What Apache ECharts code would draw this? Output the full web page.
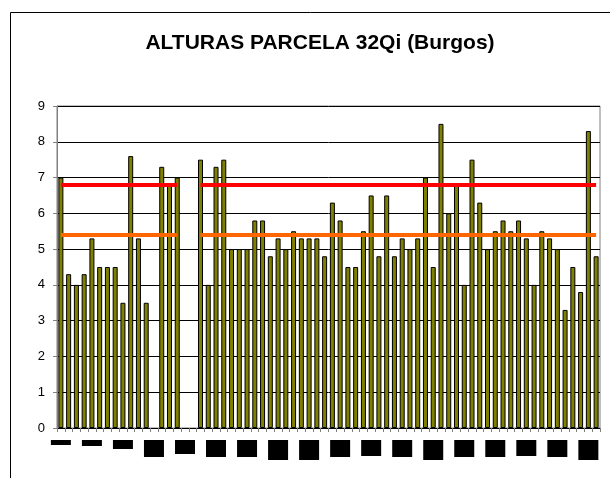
<!DOCTYPE html>
<html style="height: 100%">

<head>
    <meta charset="utf-8">
    <script src="https://cdn.jsdelivr.net/npm/echarts@6/dist/echarts.min.js"></script>
</head>

<body style="height: 100%; margin: 0; background: #fff">
    <div id="main" style="width: 610px;height:478px;"></div>
    <script type="text/javascript">
        // alturas (m) de cada arbol de la parcela, en orden
        var alturas = [7.0, 4.3, 4.0, 4.3, 5.3, 4.5, 4.5, 4.5, 3.5, 7.6,
            5.3, 3.5, null, 7.3, 6.8, 7.0, null, null, 7.5, 4.0,
            7.3, 7.5, 5.0, 5.0, 5.0, 5.8, 5.8, 4.8, 5.3, 5.0,
            5.5, 5.3, 5.3, 5.3, 4.8, 6.3, 5.8, 4.5, 4.5, 5.5,
            6.5, 4.8, 6.5, 4.8, 5.3, 5.0, 5.3, 7.0, 4.5, 8.5,
            6.0, 6.8, 4.0, 7.5, 6.3, 5.0, 5.5, 5.8, 5.5, 5.8,
            5.3, 4.0, 5.5, 5.3, 5.0, 3.3, 4.5, 3.8, 8.3, 4.8];
        var arboles = alturas.map(function (v, i) { return String(i + 1); });
        // lineas de referencia (valor) y los tramos de arboles que cubren
        var limiteRojo = 6.8;
        var limiteNaranja = 5.4;
        var tramos = [[0, 15], [18, 69]];
        // las etiquetas del eje salen como bloques negros de distinta altura
        var alturaBloque = [5, 6, 9, 17, 14, 17, 17, 20, 20, 17, 16, 17, 20, 17, 17, 16, 17, 20];

        var rich = {};
        alturaBloque.forEach(function (h, k) {
            rich['b' + k] = { backgroundColor: '#000', width: 20, height: h, lineHeight: h, fontSize: 1, padding: 0 };
        });

        function tramoLinea(valor, color) {
            return tramos.map(function (t) {
                return [{ coord: [t[0], valor], lineStyle: { color: color, width: 4, type: 'solid' } },
                        { coord: [t[1], valor] }];
            });
        }

        var myChart = echarts.init(document.getElementById('main'));
        myChart.setOption({
            animation: false,
            title: {
                text: 'ALTURAS PARCELA 32Qi (Burgos)',
                left: 315,
                textAlign: 'center',
                top: 28,
                textStyle: { fontFamily: 'Liberation Sans', fontSize: 21, fontWeight: 'bold', color: '#000' }
            },
            graphic: [{
                type: 'rect',
                shape: { x: 10.5, y: 12.5, width: 700, height: 600 },
                style: { fill: 'none', stroke: '#000', lineWidth: 1 },
                silent: true
            }],
            grid: { left: 57, right: 10, top: 106, bottom: 50, show: true, borderColor: '#808080', borderWidth: 1 },
            xAxis: {
                type: 'category',
                data: arboles,
                axisLine: { lineStyle: { color: '#000' } },
                axisTick: { show: true, interval: 0, length: 4, lineStyle: { color: '#808080' } },
                axisLabel: {
                    interval: 3,
                    margin: 12,
                    verticalAlign: 'top',
                    formatter: function (v, i) {
                        return '{b' + (i / 4) + '| }';
                    },
                    rich: rich
                }
            },
            yAxis: {
                type: 'value',
                min: 0,
                max: 9,
                interval: 1,
                axisLine: { show: true, lineStyle: { color: '#808080' } },
                axisTick: { show: true, length: 4, lineStyle: { color: '#808080' } },
                axisLabel: { margin: 12, fontFamily: 'Liberation Sans', fontSize: 13, color: '#000' },
                splitLine: { lineStyle: { color: '#000', width: 1 } }
            },
            series: [{
                type: 'bar',
                data: alturas,
                barWidth: 5,
                itemStyle: { color: '#808000', borderColor: '#000', borderWidth: 1 },
                markLine: {
                    silent: true,
                    symbol: 'none',
                    label: { show: false },
                    data: tramoLinea(limiteRojo, '#ff0000').concat(tramoLinea(limiteNaranja, '#ff6600'))
                }
            }]
        });
    </script>
</body>

</html>
